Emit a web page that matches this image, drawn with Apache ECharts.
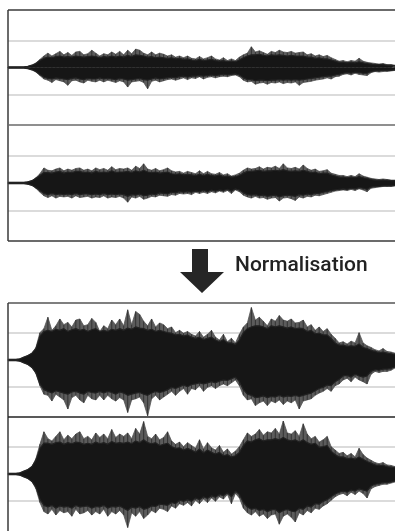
<!DOCTYPE html>
<html>
<head>
<meta charset="utf-8">
<script src="https://cdn.jsdelivr.net/npm/echarts@6/dist/echarts.min.js"></script>
<style>
html,body{margin:0;padding:0;background:#fff;}
#chart{width:395px;height:531px;}
</style>
</head>
<body>
<div id="chart"></div>
<script>
// Waveforms: one sample every ~4 px, amplitude as a fraction of a channel's half-height.
// "Peak" arrays = tips of the thin spikes, "Body" arrays = edge of the solid black mass.
// ---- Original (top panel) ----
var origPeakUpL = [0.01,0.01,0.01,0.01,0.01,0.02,0.04,0.08,0.14,0.2,
0.25,0.2,0.24,0.28,0.22,0.26,0.21,0.27,0.28,0.22,
0.24,0.3,0.25,0.2,0.24,0.22,0.27,0.23,0.28,0.22,
0.3,0.24,0.32,0.3,0.25,0.22,0.27,0.22,0.25,0.23,
0.2,0.22,0.18,0.2,0.17,0.2,0.16,0.15,0.19,0.15,
0.17,0.2,0.15,0.13,0.17,0.12,0.15,0.12,0.18,0.22,
0.25,0.36,0.27,0.29,0.26,0.23,0.28,0.26,0.3,0.27,
0.26,0.28,0.25,0.26,0.27,0.22,0.24,0.2,0.22,0.19,
0.21,0.17,0.14,0.11,0.12,0.1,0.12,0.11,0.16,0.11,
0.09,0.08,0.07,0.06,0.07,0.05,0.05,0.04];
var origPeakLoL = [-0.01,-0.01,-0.01,-0.01,-0.01,-0.02,-0.04,-0.08,-0.14,-0.2,
-0.22,-0.26,-0.21,-0.23,-0.25,-0.31,-0.23,-0.22,-0.25,-0.27,
-0.22,-0.24,-0.25,-0.22,-0.25,-0.22,-0.24,-0.26,-0.23,-0.25,
-0.34,-0.25,-0.24,-0.23,-0.26,-0.37,-0.24,-0.22,-0.25,-0.23,
-0.21,-0.2,-0.22,-0.2,-0.18,-0.21,-0.18,-0.19,-0.16,-0.2,
-0.17,-0.16,-0.18,-0.16,-0.15,-0.16,-0.14,-0.13,-0.16,-0.22,
-0.25,-0.24,-0.29,-0.27,-0.26,-0.29,-0.26,-0.27,-0.25,-0.28,
-0.26,-0.27,-0.25,-0.31,-0.26,-0.25,-0.24,-0.22,-0.21,-0.2,
-0.18,-0.2,-0.16,-0.15,-0.12,-0.11,-0.13,-0.1,-0.12,-0.13,
-0.14,-0.09,-0.07,-0.08,-0.07,-0.07,-0.06,-0.05];
var origBodyUpL = [0.01,0.01,0.01,0.01,0.01,0.02,0.04,0.07,0.12,0.16,
0.18,0.17,0.19,0.2,0.18,0.19,0.18,0.2,0.19,0.18,
0.19,0.2,0.19,0.17,0.19,0.18,0.2,0.18,0.2,0.18,
0.21,0.19,0.22,0.21,0.2,0.18,0.19,0.17,0.18,0.17,
0.16,0.17,0.15,0.16,0.14,0.15,0.13,0.12,0.14,0.12,
0.13,0.14,0.12,0.11,0.12,0.1,0.11,0.1,0.13,0.17,
0.2,0.22,0.22,0.23,0.21,0.2,0.22,0.21,0.22,0.21,
0.2,0.21,0.2,0.2,0.2,0.18,0.18,0.16,0.17,0.15,
0.15,0.13,0.11,0.09,0.09,0.08,0.09,0.08,0.1,0.08,
0.07,0.06,0.05,0.05,0.05,0.04,0.04,0.03];
var origBodyLoL = [-0.01,-0.01,-0.01,-0.01,-0.01,-0.02,-0.04,-0.07,-0.12,-0.17,
-0.19,-0.2,-0.18,-0.19,-0.2,-0.21,-0.19,-0.18,-0.2,-0.21,
-0.19,-0.2,-0.2,-0.18,-0.2,-0.19,-0.2,-0.21,-0.19,-0.2,
-0.22,-0.21,-0.2,-0.19,-0.21,-0.22,-0.2,-0.18,-0.2,-0.19,
-0.18,-0.17,-0.18,-0.16,-0.15,-0.17,-0.15,-0.15,-0.14,-0.15,
-0.14,-0.13,-0.14,-0.13,-0.12,-0.13,-0.12,-0.11,-0.13,-0.18,
-0.21,-0.21,-0.23,-0.22,-0.22,-0.23,-0.22,-0.22,-0.21,-0.22,
-0.21,-0.22,-0.21,-0.22,-0.21,-0.2,-0.19,-0.18,-0.17,-0.16,
-0.15,-0.15,-0.13,-0.12,-0.1,-0.09,-0.1,-0.08,-0.09,-0.1,
-0.1,-0.07,-0.06,-0.06,-0.05,-0.05,-0.05,-0.04];
var origPeakUpR = [0.01,0.01,0.01,0.01,0.01,0.02,0.04,0.09,0.16,0.26,
0.22,0.21,0.24,0.26,0.21,0.24,0.22,0.25,0.26,0.22,
0.24,0.21,0.26,0.23,0.25,0.22,0.28,0.23,0.25,0.24,
0.26,0.22,0.29,0.25,0.33,0.24,0.22,0.25,0.21,0.23,
0.26,0.21,0.19,0.2,0.17,0.2,0.18,0.16,0.21,0.16,
0.2,0.16,0.15,0.18,0.14,0.16,0.12,0.14,0.17,0.22,
0.26,0.24,0.25,0.28,0.24,0.27,0.26,0.29,0.25,0.33,
0.26,0.25,0.27,0.24,0.31,0.25,0.22,0.24,0.2,0.21,
0.23,0.17,0.15,0.13,0.13,0.11,0.13,0.11,0.16,0.12,
0.1,0.08,0.07,0.06,0.07,0.06,0.05,0.05];
var origPeakLoR = [-0.01,-0.01,-0.01,-0.01,-0.01,-0.02,-0.04,-0.09,-0.16,-0.22,
-0.25,-0.22,-0.26,-0.23,-0.24,-0.23,-0.26,-0.22,-0.25,-0.24,
-0.23,-0.26,-0.24,-0.25,-0.22,-0.26,-0.24,-0.25,-0.23,-0.26,
-0.33,-0.24,-0.26,-0.23,-0.28,-0.26,-0.23,-0.24,-0.21,-0.22,
-0.23,-0.2,-0.21,-0.18,-0.19,-0.18,-0.2,-0.16,-0.18,-0.16,
-0.18,-0.15,-0.17,-0.14,-0.16,-0.13,-0.18,-0.12,-0.15,-0.21,
-0.24,-0.26,-0.23,-0.26,-0.25,-0.28,-0.26,-0.25,-0.31,-0.26,
-0.25,-0.27,-0.3,-0.24,-0.26,-0.23,-0.24,-0.21,-0.22,-0.2,
-0.18,-0.16,-0.14,-0.13,-0.12,-0.13,-0.11,-0.13,-0.1,-0.12,
-0.15,-0.09,-0.08,-0.07,-0.06,-0.06,-0.06,-0.05];
var origBodyUpR = [0.01,0.01,0.01,0.01,0.01,0.02,0.04,0.08,0.13,0.18,
0.18,0.17,0.19,0.2,0.17,0.19,0.18,0.2,0.2,0.18,
0.19,0.17,0.2,0.18,0.19,0.18,0.21,0.18,0.19,0.19,
0.2,0.18,0.21,0.19,0.22,0.19,0.18,0.19,0.17,0.18,
0.19,0.16,0.15,0.16,0.14,0.15,0.14,0.13,0.15,0.13,
0.15,0.13,0.12,0.14,0.11,0.12,0.1,0.11,0.13,0.17,
0.2,0.2,0.21,0.22,0.2,0.21,0.21,0.22,0.21,0.23,
0.21,0.2,0.21,0.2,0.22,0.2,0.18,0.19,0.16,0.17,
0.17,0.14,0.12,0.1,0.1,0.09,0.1,0.09,0.11,0.09,
0.08,0.06,0.05,0.05,0.05,0.05,0.04,0.04];
var origBodyLoR = [-0.01,-0.01,-0.01,-0.01,-0.01,-0.02,-0.04,-0.08,-0.13,-0.18,
-0.2,-0.18,-0.2,-0.19,-0.2,-0.19,-0.2,-0.18,-0.2,-0.19,
-0.19,-0.2,-0.19,-0.2,-0.18,-0.2,-0.19,-0.2,-0.19,-0.2,
-0.23,-0.2,-0.21,-0.19,-0.22,-0.21,-0.19,-0.2,-0.17,-0.18,
-0.19,-0.16,-0.17,-0.15,-0.16,-0.15,-0.16,-0.14,-0.15,-0.13,
-0.15,-0.12,-0.14,-0.12,-0.13,-0.11,-0.14,-0.1,-0.12,-0.17,
-0.2,-0.21,-0.2,-0.22,-0.21,-0.23,-0.22,-0.21,-0.24,-0.22,
-0.21,-0.22,-0.23,-0.2,-0.21,-0.19,-0.2,-0.18,-0.18,-0.16,
-0.15,-0.13,-0.12,-0.11,-0.1,-0.11,-0.09,-0.1,-0.08,-0.09,
-0.11,-0.07,-0.06,-0.06,-0.05,-0.05,-0.05,-0.04];
// ---- Normalised (bottom panel) ----
var normPeakUpL = [0.01,0.01,0.01,0.02,0.05,0.08,0.12,0.22,0.48,0.55,
0.75,0.52,0.6,0.72,0.62,0.66,0.58,0.7,0.72,0.6,
0.62,0.73,0.66,0.5,0.6,0.55,0.7,0.62,0.72,0.6,
0.88,0.62,0.85,0.8,0.68,0.6,0.72,0.58,0.65,0.62,
0.55,0.58,0.48,0.52,0.47,0.5,0.45,0.42,0.5,0.4,
0.45,0.52,0.4,0.35,0.45,0.32,0.38,0.3,0.45,0.58,
0.65,0.92,0.7,0.75,0.68,0.6,0.72,0.68,0.78,0.7,
0.68,0.72,0.65,0.66,0.7,0.58,0.62,0.52,0.58,0.5,
0.55,0.45,0.38,0.3,0.32,0.28,0.33,0.3,0.48,0.3,
0.25,0.22,0.18,0.16,0.2,0.15,0.14,0.12];
var normPeakLoL = [-0.01,-0.01,-0.01,-0.02,-0.05,-0.08,-0.13,-0.24,-0.45,-0.6,
-0.62,-0.72,-0.6,-0.65,-0.7,-0.86,-0.66,-0.62,-0.7,-0.75,
-0.62,-0.68,-0.7,-0.62,-0.7,-0.62,-0.68,-0.72,-0.66,-0.7,
-0.92,-0.7,-0.68,-0.65,-0.75,-0.98,-0.68,-0.62,-0.7,-0.65,
-0.6,-0.55,-0.62,-0.55,-0.5,-0.6,-0.5,-0.52,-0.45,-0.55,
-0.48,-0.45,-0.5,-0.45,-0.42,-0.45,-0.4,-0.35,-0.45,-0.62,
-0.7,-0.68,-0.8,-0.75,-0.72,-0.8,-0.72,-0.75,-0.7,-0.78,
-0.72,-0.75,-0.7,-0.86,-0.72,-0.7,-0.68,-0.62,-0.58,-0.55,
-0.5,-0.55,-0.45,-0.42,-0.35,-0.32,-0.38,-0.3,-0.35,-0.38,
-0.42,-0.25,-0.2,-0.22,-0.2,-0.2,-0.18,-0.14];
var normBodyUpL = [0.01,0.01,0.01,0.02,0.05,0.08,0.12,0.2,0.42,0.5,
0.52,0.5,0.54,0.52,0.55,0.5,0.53,0.55,0.52,0.54,
0.5,0.53,0.55,0.5,0.52,0.5,0.54,0.52,0.55,0.52,
0.56,0.54,0.58,0.56,0.55,0.52,0.54,0.5,0.52,0.5,
0.48,0.47,0.44,0.45,0.42,0.44,0.4,0.38,0.4,0.36,
0.38,0.4,0.35,0.32,0.36,0.3,0.3,0.27,0.35,0.48,
0.55,0.58,0.6,0.6,0.58,0.55,0.6,0.58,0.6,0.58,
0.56,0.58,0.55,0.56,0.55,0.5,0.52,0.46,0.47,0.44,
0.44,0.38,0.3,0.26,0.26,0.24,0.25,0.24,0.28,0.22,
0.2,0.17,0.15,0.13,0.14,0.12,0.11,0.1];
var normBodyLoL = [-0.01,-0.01,-0.01,-0.02,-0.05,-0.08,-0.13,-0.22,-0.42,-0.52,
-0.55,-0.58,-0.54,-0.56,-0.58,-0.6,-0.56,-0.55,-0.58,-0.6,
-0.55,-0.57,-0.58,-0.55,-0.58,-0.55,-0.57,-0.6,-0.56,-0.58,
-0.62,-0.6,-0.58,-0.57,-0.6,-0.62,-0.58,-0.55,-0.57,-0.55,
-0.52,-0.48,-0.5,-0.47,-0.44,-0.47,-0.43,-0.42,-0.4,-0.42,
-0.4,-0.38,-0.4,-0.37,-0.35,-0.36,-0.33,-0.3,-0.38,-0.52,
-0.6,-0.62,-0.66,-0.65,-0.63,-0.66,-0.64,-0.65,-0.62,-0.65,
-0.63,-0.64,-0.62,-0.64,-0.62,-0.6,-0.58,-0.54,-0.5,-0.48,
-0.44,-0.45,-0.38,-0.34,-0.28,-0.27,-0.3,-0.25,-0.28,-0.3,
-0.28,-0.2,-0.17,-0.18,-0.16,-0.16,-0.15,-0.12];
var normPeakUpR = [0.01,0.01,0.01,0.02,0.05,0.08,0.13,0.27,0.52,0.74,
0.62,0.58,0.66,0.74,0.6,0.68,0.62,0.7,0.74,0.62,
0.66,0.6,0.72,0.64,0.7,0.62,0.78,0.64,0.7,0.66,
0.72,0.62,0.8,0.7,0.92,0.66,0.62,0.7,0.6,0.64,
0.74,0.58,0.52,0.56,0.48,0.55,0.5,0.45,0.6,0.44,
0.55,0.46,0.42,0.5,0.38,0.44,0.35,0.4,0.48,0.6,
0.72,0.66,0.7,0.78,0.68,0.74,0.72,0.8,0.7,0.93,
0.72,0.7,0.76,0.66,0.88,0.7,0.62,0.66,0.56,0.6,
0.66,0.48,0.42,0.36,0.38,0.32,0.36,0.3,0.45,0.34,
0.28,0.24,0.2,0.18,0.2,0.16,0.15,0.13];
var normPeakLoR = [-0.01,-0.01,-0.01,-0.02,-0.05,-0.08,-0.13,-0.26,-0.5,-0.66,
-0.7,-0.62,-0.72,-0.64,-0.68,-0.66,-0.74,-0.62,-0.7,-0.68,
-0.64,-0.72,-0.66,-0.7,-0.62,-0.74,-0.66,-0.7,-0.64,-0.72,
-0.94,-0.68,-0.74,-0.66,-0.78,-0.72,-0.64,-0.68,-0.6,-0.62,
-0.66,-0.56,-0.6,-0.52,-0.55,-0.5,-0.56,-0.46,-0.52,-0.44,
-0.5,-0.42,-0.48,-0.4,-0.44,-0.36,-0.52,-0.34,-0.42,-0.6,
-0.68,-0.72,-0.66,-0.74,-0.7,-0.78,-0.72,-0.7,-0.88,-0.74,
-0.7,-0.76,-0.84,-0.68,-0.72,-0.64,-0.68,-0.6,-0.62,-0.56,
-0.52,-0.46,-0.4,-0.36,-0.34,-0.38,-0.32,-0.36,-0.3,-0.34,
-0.42,-0.26,-0.22,-0.2,-0.18,-0.18,-0.16,-0.14];
var normBodyUpR = [0.01,0.01,0.01,0.02,0.05,0.08,0.13,0.24,0.45,0.54,
0.54,0.52,0.55,0.56,0.52,0.55,0.53,0.56,0.55,0.52,
0.54,0.52,0.56,0.53,0.55,0.52,0.57,0.54,0.55,0.54,
0.56,0.53,0.58,0.55,0.6,0.55,0.53,0.55,0.5,0.52,
0.54,0.48,0.45,0.46,0.42,0.45,0.42,0.38,0.44,0.37,
0.42,0.38,0.35,0.38,0.32,0.34,0.3,0.32,0.38,0.5,
0.58,0.56,0.6,0.62,0.58,0.6,0.6,0.62,0.6,0.64,
0.6,0.58,0.6,0.56,0.6,0.55,0.52,0.54,0.47,0.48,
0.5,0.4,0.34,0.3,0.3,0.27,0.28,0.26,0.3,0.26,
0.22,0.19,0.16,0.15,0.15,0.13,0.12,0.11];
var normBodyLoR = [-0.01,-0.01,-0.01,-0.02,-0.05,-0.08,-0.13,-0.23,-0.44,-0.55,
-0.58,-0.55,-0.6,-0.56,-0.58,-0.57,-0.6,-0.55,-0.58,-0.57,
-0.56,-0.6,-0.57,-0.58,-0.55,-0.6,-0.57,-0.58,-0.56,-0.6,
-0.64,-0.58,-0.6,-0.57,-0.62,-0.6,-0.56,-0.57,-0.53,-0.54,
-0.55,-0.5,-0.52,-0.46,-0.48,-0.45,-0.48,-0.42,-0.45,-0.4,
-0.43,-0.38,-0.41,-0.36,-0.38,-0.33,-0.4,-0.3,-0.36,-0.5,
-0.58,-0.62,-0.6,-0.64,-0.62,-0.66,-0.63,-0.62,-0.68,-0.64,
-0.62,-0.65,-0.66,-0.6,-0.62,-0.56,-0.58,-0.52,-0.53,-0.48,
-0.45,-0.4,-0.35,-0.32,-0.3,-0.32,-0.28,-0.3,-0.26,-0.28,
-0.3,-0.21,-0.18,-0.17,-0.15,-0.15,-0.14,-0.12];
var gridLevels = [0.47, -0.47];
var labelText = 'Normalisation';

var samples = [];
for (var i = 0; i < normPeakUpL.length; i++) samples.push(String(i));

var chart = echarts.init(document.getElementById('chart'), null, {renderer: 'canvas'});

var grids = [
  {left: 8, right: 0, top: 10, height: 115},
  {left: 8, right: 0, top: 125, height: 116},
  {left: 8, right: 0, top: 303, height: 114},
  {left: 8, right: 0, top: 417, height: 114}
];
var channels = [
  {peaks: [origPeakUpL, origPeakLoL], body: [origBodyUpL, origBodyLoL]},
  {peaks: [origPeakUpR, origPeakLoR], body: [origBodyUpR, origBodyLoR]},
  {peaks: [normPeakUpL, normPeakLoL], body: [normBodyUpL, normBodyLoL]},
  {peaks: [normPeakUpR, normPeakLoR], body: [normBodyUpR, normBodyLoR]}
];
var xAxes = [], yAxes = [], series = [];
grids.forEach(function (g, k) {
  xAxes.push({type: 'category', gridIndex: k, data: samples, boundaryGap: false, show: false});
  yAxes.push({type: 'value', gridIndex: k, min: -1, max: 1, show: false, splitLine: {show: false}});
  series.push({
    type: 'line', xAxisIndex: k, yAxisIndex: k, data: [], z: 1, silent: true,
    markLine: {
      silent: true, symbol: 'none', label: {show: false}, z: 1,
      lineStyle: {color: '#cfcfcf', width: 1.5, type: 'solid'},
      data: gridLevels.map(function (v) { return {yAxis: v}; })
    }
  });
  // thin spikes: grey fringe up to the peak envelope
  channels[k].peaks.forEach(function (arr) {
    series.push({
      type: 'line', xAxisIndex: k, yAxisIndex: k, data: arr, z: 5,
      showSymbol: false, silent: true,
      lineStyle: {color: '#555', width: 0.8},
      areaStyle: {color: '#5c5c5c', opacity: 1, origin: 0}
    });
    series.push({
      type: 'bar', xAxisIndex: k, yAxisIndex: k, data: arr, z: 6, silent: true,
      barWidth: 1, barGap: '-100%',
      itemStyle: {color: '#333'}
    });
  });
  // solid black mass
  channels[k].body.forEach(function (arr) {
    series.push({
      type: 'line', xAxisIndex: k, yAxisIndex: k, data: arr, z: 7,
      showSymbol: false, silent: true,
      lineStyle: {color: '#222', width: 1.2},
      areaStyle: {color: '#161616', opacity: 1, origin: 0}
    });
  });
});

var frame = '#3a3a3a';
chart.setOption({
  animation: false,
  backgroundColor: '#fff',
  grid: grids,
  xAxis: xAxes,
  yAxis: yAxes,
  series: series,
  graphic: [
    {type: 'line', shape: {x1: 8, y1: 10, x2: 395, y2: 10}, style: {stroke: frame, lineWidth: 1.5}, z: 10},
    {type: 'line', shape: {x1: 8, y1: 10, x2: 8, y2: 241}, style: {stroke: frame, lineWidth: 1.5}, z: 10},
    {type: 'line', shape: {x1: 8, y1: 125, x2: 395, y2: 125}, style: {stroke: '#6a6a6a', lineWidth: 1.5}, z: 10},
    {type: 'line', shape: {x1: 8, y1: 241, x2: 395, y2: 241}, style: {stroke: frame, lineWidth: 1.5}, z: 10},
    {type: 'line', shape: {x1: 8, y1: 303, x2: 395, y2: 303}, style: {stroke: '#555', lineWidth: 1.5}, z: 10},
    {type: 'line', shape: {x1: 8, y1: 303, x2: 8, y2: 531}, style: {stroke: frame, lineWidth: 1.5}, z: 10},
    {type: 'line', shape: {x1: 8, y1: 417, x2: 395, y2: 417}, style: {stroke: '#222', lineWidth: 1.5}, z: 10},
    {type: 'polygon', shape: {points: [[192, 249], [208, 249], [208, 272], [224, 272], [202, 293], [180, 272], [192, 272]]},
      style: {fill: '#262626'}, z: 10},
    {type: 'text', left: 235, top: 255, z: 10,
      style: {text: labelText, fill: '#222', font: '500 21px Roboto, "Liberation Sans", sans-serif'}}
  ]
});
</script>
</body>
</html>
